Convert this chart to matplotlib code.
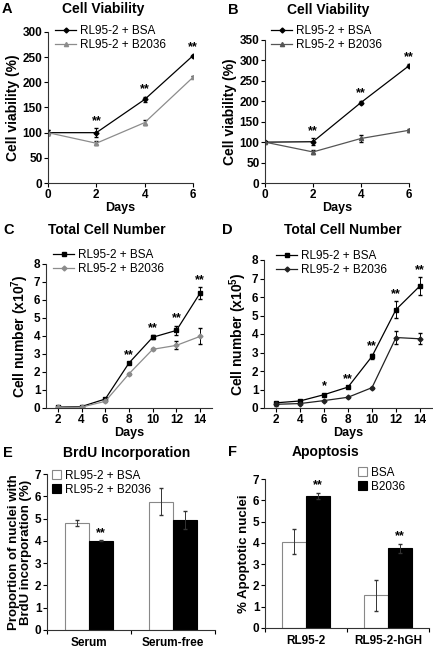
import numpy as np
import matplotlib
matplotlib.use("Agg")
import matplotlib.pyplot as plt

plt.rcParams['font.family'] = ['Liberation Sans', 'DejaVu Sans']
plt.rcParams['mathtext.fontset'] = 'custom'
plt.rcParams['mathtext.rm'] = 'Liberation Sans'
plt.rcParams['mathtext.bf'] = 'Liberation Sans:bold'

# --- data ---
via_days = [0, 2, 4, 6]
a_bsa = [100, 100, 166, 253]
a_bsa_err = [5, 9, 5, 2]
a_b2036 = [100, 79, 120, 210]
a_b2036_err = [5, 4, 5, 2]
a_stars = ["", "**", "**", "**"]

b_bsa = [100, 101, 197, 287]
b_bsa_err = [3, 8, 4, 4]
b_b2036 = [100, 76, 109, 129]
b_b2036_err = [3, 4, 8, 4]
b_stars = ["", "**", "**", "**"]

num_days = [2, 4, 6, 8, 10, 12, 14]
c_bsa = [0.05, 0.08, 0.5, 2.5, 3.93, 4.31, 6.39]
c_bsa_err = [0.02, 0.02, 0.05, 0.05, 0.12, 0.25, 0.32]
c_b2036 = [0.03, 0.05, 0.37, 1.9, 3.26, 3.48, 3.98]
c_b2036_err = [0.02, 0.02, 0.04, 0.05, 0.06, 0.22, 0.45]
c_stars = ["", "", "", "**", "**", "**", "**"]

d_bsa = [0.28, 0.38, 0.72, 1.13, 2.79, 5.32, 6.6]
d_bsa_err = [0.05, 0.05, 0.05, 0.05, 0.15, 0.45, 0.47]
d_b2036 = [0.2, 0.24, 0.4, 0.58, 1.1, 3.81, 3.74]
d_b2036_err = [0.1, 0.05, 0.04, 0.04, 0.05, 0.35, 0.3]
d_stars = ["", "", "*", "**", "**", "**", "**"]

e_groups = ["Serum", "Serum-free"]
e_bsa = [4.8, 5.75]
e_bsa_err = [0.15, 0.6]
e_b2036 = [4.0, 4.95]
e_b2036_err = [0.02, 0.4]
e_stars = ["**", ""]

f_groups = ["RL95-2", "RL95-2-hGH"]
f_bsa = [4.06, 1.53]
f_bsa_err = [0.6, 0.72]
f_b2036 = [6.2, 3.74]
f_b2036_err = [0.15, 0.22]
f_stars = ["**", "**"]

W, H = 433, 653
fig = plt.figure(figsize=(W / 100, H / 100), dpi=100)


def px_axes(l, t, r, b):
    return fig.add_axes([l / W, 1 - b / H, (r - l) / W, (b - t) / H])


def style(ax):
    ax.spines['top'].set_visible(False)
    ax.spines['right'].set_visible(False)
    for s in ['left', 'bottom']:
        ax.spines[s].set_linewidth(0.8)
        ax.spines[s].set_color('#333333')
    ax.tick_params(direction='out', length=3, width=0.8, labelsize=8.5, pad=1)
    for lab in ax.get_xticklabels() + ax.get_yticklabels():
        lab.set_fontweight('bold')


def legend(ax, x, y, **kw):
    opts = dict(loc='upper left', bbox_to_anchor=(x / W, 1 - y / H),
                bbox_transform=fig.transFigure, frameon=False, fontsize=8.5,
                borderpad=0, borderaxespad=0, handlelength=1.8,
                handletextpad=0.35, labelspacing=0.2)
    opts.update(kw)
    ax.legend(**opts)


def stars(ax, xs, ys, errs, marks, fs=9):
    for x, y, e, m in zip(xs, ys, errs, marks):
        if m:
            ax.annotate(m, (x, y + e), xytext=(0, 1), textcoords='offset points',
                        ha='center', va='bottom', fontsize=fs, fontweight='bold')


def header(x, y, letter, lx, title):
    fig.text(lx / W, 1 - y / H, letter, fontsize=10.5, fontweight='bold', va='center')
    fig.text(x / W, 1 - y / H, title, fontsize=10, fontweight='bold',
             va='center', ha='center')


def line_panel(ax, days, s1, e1, s2, e2, c2, m1, m2, ms1, ms2):
    ax.errorbar(days, s1, yerr=e1, fmt='none', ecolor='black',
                capsize=1.5, elinewidth=0.7)
    ax.errorbar(days, s2, yerr=e2, fmt='none', ecolor='black',
                capsize=1.5, elinewidth=0.7)
    ax.plot(days, s1, color='black', lw=0.9, marker=m1, ms=ms1,
            label='RL95-2 + BSA')
    ax.plot(days, s2, color=c2, lw=0.9, marker=m2, ms=ms2,
            label='RL95-2 + B2036')


def line_axes(ax, xlim, ylim, xt, yt, ylab):
    ax.set_xlim(*xlim)
    ax.set_ylim(*ylim)
    ax.set_xticks(xt)
    ax.set_yticks(yt)
    ax.set_xlabel('Days', fontsize=9, fontweight='bold', labelpad=1)
    ax.set_ylabel(ylab, fontsize=10, fontweight='bold', labelpad=2)
    style(ax)


# --- A ---
ax = px_axes(48, 32, 193, 183)
line_panel(ax, via_days, a_bsa, a_bsa_err, a_b2036, a_b2036_err,
           '#8c8c8c', 'D', '^', 2.5, 3)
line_axes(ax, (0, 6), (0, 300), via_days, range(0, 301, 50), 'Cell viability (%)')
stars(ax, via_days, a_bsa, a_bsa_err, a_stars)
legend(ax, 55, 25)
header(103, 9, 'A', 2, 'Cell Viability')

# --- B ---
ax = px_axes(265, 40, 409, 183)
line_panel(ax, via_days, b_bsa, b_bsa_err, b_b2036, b_b2036_err,
           '#555555', 'D', '^', 2.5, 3)
line_axes(ax, (0, 6), (0, 350), via_days, range(0, 351, 50), 'Cell viability (%)')
stars(ax, via_days, b_bsa, b_bsa_err, b_stars)
legend(ax, 271, 25)
header(328, 10, 'B', 228, 'Cell Viability')

# --- C ---
ax = px_axes(46, 264, 212, 408)
line_panel(ax, num_days, c_bsa, c_bsa_err, c_b2036, c_b2036_err,
           '#8c8c8c', 's', 'D', 3, 2.5)
line_axes(ax, (1, 15), (0, 8), num_days, range(0, 9),
          r'Cell number (x10$^{\mathbf{7}}$)')
stars(ax, num_days, c_bsa, c_bsa_err, c_stars)
legend(ax, 53, 249)
header(107, 230, 'C', 3, 'Total Cell Number')

# --- D ---
ax = px_axes(264, 260, 432, 408)
line_panel(ax, num_days, d_bsa, d_bsa_err, d_b2036, d_b2036_err,
           '#222222', 's', 'D', 3, 2.5)
line_axes(ax, (1, 15), (0, 8), num_days, range(0, 9),
          r'Cell number (x10$^{\mathbf{5}}$)')
stars(ax, num_days, d_bsa, d_bsa_err, d_stars)
legend(ax, 276, 250)
header(343, 230, 'D', 222, 'Total Cell Number')


def bar_panel(ax, s1, e1, s2, e2, lab1, lab2, bw, groups):
    x = np.arange(len(s1))
    ax.bar(x - bw / 2, s1, bw, color='white', edgecolor='#888888', lw=0.8,
           label=lab1, yerr=e1, error_kw=dict(elinewidth=0.7, capsize=1.5, ecolor='#333333'))
    ax.bar(x + bw / 2, s2, bw, color='black', edgecolor='black', lw=0.8,
           label=lab2, yerr=e2, error_kw=dict(elinewidth=0.7, capsize=1.5, ecolor='#333333'))
    ax.set_xlim(-0.5, 1.5)
    ax.set_ylim(0, 7)
    ax.set_yticks(range(0, 8))
    ax.set_xticks([-0.5, 0.5, 1.5])
    ax.set_xticklabels([])
    ax.set_xticks(x, minor=True)
    ax.set_xticklabels(groups, minor=True, fontsize=8.5, fontweight='bold')
    style(ax)
    ax.tick_params(axis='x', which='minor', length=0, pad=5)
    return x


# --- E ---
ax = px_axes(47, 474, 215, 630)
x = bar_panel(ax, e_bsa, e_bsa_err, e_b2036, e_b2036_err,
              'RL95-2 + BSA', 'RL95-2 + B2036', 0.28, e_groups)
ax.set_ylabel('Proportion of nuclei with\nBrdU incorporation (%)',
              fontsize=9.5, fontweight='bold', labelpad=2, linespacing=1.05)
stars(ax, x + 0.14, e_b2036, e_b2036_err, e_stars)
legend(ax, 52, 470, handlelength=0.8, handleheight=0.8, handletextpad=0.3,
       labelspacing=0.15)
header(127, 453, 'E', 3, 'BrdU Incorporation')

# --- F ---
ax = px_axes(265, 479, 429, 628)
x = bar_panel(ax, f_bsa, f_bsa_err, f_b2036, f_b2036_err, 'BSA', 'B2036', 0.29,
              f_groups)
ax.set_ylabel('% Apoptotic nuclei', fontsize=9.5, fontweight='bold', labelpad=2)
stars(ax, x + 0.145, f_b2036, f_b2036_err, f_stars)
legend(ax, 358, 467, handlelength=0.8, handleheight=0.8, handletextpad=0.3,
       labelspacing=0.15)
header(326, 452, 'F', 228, 'Apoptosis')

fig.savefig('out.png', dpi=100)
